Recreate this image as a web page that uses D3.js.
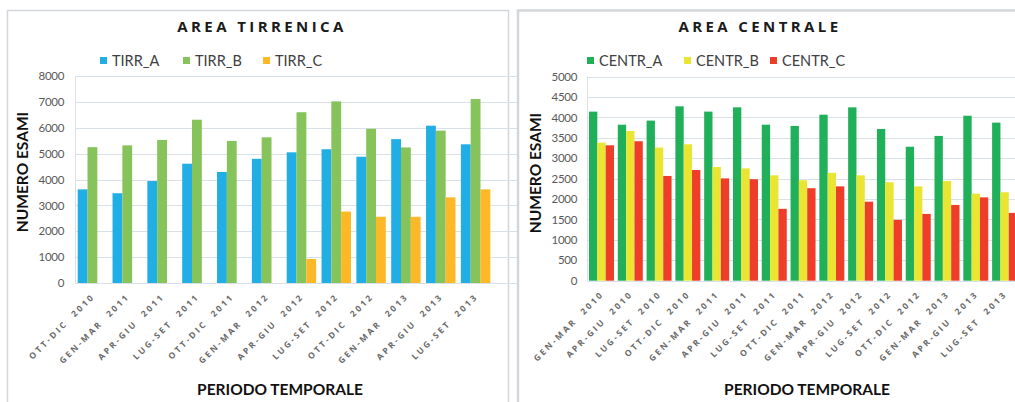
<!DOCTYPE html>
<html>
<head>
<meta charset="utf-8">
<script src="https://cdn.jsdelivr.net/npm/d3@7"></script>
<style>
  html, body { margin: 0; padding: 0; background: #ffffff; }
  svg { display: block; }
  text { font-family: Lato, "Open Sans", "Liberation Sans", sans-serif; }
</style>
</head>
<body>
<svg id="chart" width="1015" height="402"></svg>
<script>
// ---------- DATA ----------
const tirrCategories = ["OTT-DIC 2010","GEN-MAR 2011","APR-GIU 2011","LUG-SET 2011","OTT-DIC 2011","GEN-MAR 2012","APR-GIU 2012","LUG-SET 2012","OTT-DIC 2012","GEN-MAR 2013","APR-GIU 2013","LUG-SET 2013"];
const tirrSeriesNames = ["TIRR_A","TIRR_B","TIRR_C"];
const tirrA = [3620, 3470, 3940, 4610, 4290, 4800, 5050, 5170, 4880, 5560, 6080, 5360];
const tirrB = [5250, 5320, 5530, 6310, 5490, 5630, 6600, 7020, 5960, 5240, 5890, 7110];
const tirrC = [null, null, null, null, null, null, 930, 2760, 2560, 2560, 3310, 3620];
const tirrTicks = [0,1000,2000,3000,4000,5000,6000,7000,8000];

const centrCategories = ["GEN-MAR 2010","APR-GIU 2010","LUG-SET 2010","OTT-DIC 2010","GEN-MAR 2011","APR-GIU 2011","LUG-SET 2011","OTT-DIC 2011","GEN-MAR 2012","APR-GIU 2012","LUG-SET 2012","OTT-DIC 2012","GEN-MAR 2013","APR-GIU 2013","LUG-SET 2013"];
const centrSeriesNames = ["CENTR_A","CENTR_B","CENTR_C"];
const centrA = [4140, 3820, 3920, 4270, 4140, 4245, 3820, 3790, 4065, 4245, 3715, 3280, 3545, 4040, 3870];
const centrB = [3380, 3665, 3260, 3340, 2785, 2750, 2580, 2460, 2640, 2580, 2410, 2310, 2440, 2130, 2165];
const centrC = [3315, 3415, 2565, 2710, 2505, 2485, 1760, 2265, 2310, 1935, 1490, 1635, 1855, 2040, 1660];
const centrTicks = [0,500,1000,1500,2000,2500,3000,3500,4000,4500,5000];

const titles = ["AREA TIRRENICA", "AREA CENTRALE"];
const xTitle = "PERIODO TEMPORALE";
const yTitle = "NUMERO ESAMI";

// ---------- DRAW ----------
const svg = d3.select("#chart");

function drawPanel(cfg) {
  const g = svg.append("g");
  g.append("rect")
    .attr("x", cfg.panel.x).attr("y", cfg.panel.y)
    .attr("width", cfg.panel.w).attr("height", cfg.panel.h)
    .attr("fill", "#ffffff").attr("stroke", "#d3d7dc").attr("stroke-width", cfg.panel.sw);

  const x = d3.scaleBand().domain(cfg.categories)
    .range([cfg.plot.x0, cfg.plot.x1]).paddingInner(cfg.pad).paddingOuter(cfg.pad / 2);
  const xs = d3.scaleBand().domain(cfg.names).range([0, x.bandwidth()]);
  const y = d3.scaleLinear().domain([0, cfg.max]).range([cfg.plot.y1, cfg.plot.y0]);

  g.append("g").selectAll("line").data(cfg.ticks).join("line")
    .attr("x1", cfg.plot.x0).attr("x2", cfg.plot.x1 + 30)
    .attr("y1", d => Math.round(y(d)) + 0.5).attr("y2", d => Math.round(y(d)) + 0.5)
    .attr("stroke", "#d8e1ea").attr("stroke-width", 1);
  g.append("line")
    .attr("x1", Math.round(cfg.plot.x0) + 0.5).attr("x2", Math.round(cfg.plot.x0) + 0.5)
    .attr("y1", cfg.plot.y0).attr("y2", cfg.plot.y1)
    .attr("stroke", "#d8e1ea");

  const yAxis = d3.axisLeft(y).tickValues(cfg.ticks).tickSize(0).tickPadding(0).tickFormat(d3.format("d"));
  const ya = g.append("g").attr("transform", `translate(${cfg.yLabelX},0)`).call(yAxis);
  ya.select(".domain").remove();
  ya.selectAll("text").attr("fill", "#595959").style("font-size", "11.5px")
    .style("font-family", "Lato, 'Liberation Sans', sans-serif").style("letter-spacing", "-0.3px");

  const rows = cfg.categories.map((c, i) => ({ c, vals: cfg.series.map((s, k) => ({ name: cfg.names[k], v: s[i], color: cfg.colors[k] })) }));
  const grp = g.append("g").selectAll("g").data(rows).join("g")
    .attr("transform", d => `translate(${x(d.c)},0)`);
  grp.selectAll("rect").data(d => d.vals.filter(v => v.v != null)).join("rect")
    .attr("x", d => xs(d.name)).attr("width", xs.bandwidth())
    .attr("y", d => y(d.v)).attr("height", d => y(0) - y(d.v))
    .attr("fill", d => d.color);

  const xAxis = d3.axisBottom(x).tickSize(0).tickPadding(0);
  const xa = g.append("g").attr("transform", `translate(0,${cfg.plot.y1})`).call(xAxis);
  xa.select(".domain").remove();
  xa.selectAll("text")
    .attr("text-anchor", "end").attr("dy", null).attr("y", 0)
    .attr("transform", "translate(3,14) rotate(-45)")
    .attr("fill", "#6b6b6b")
    .attr("xml:space", "preserve")
    .style("white-space", "pre")
    .style("font-size", "8.5px").style("font-weight", "700")
    .style("letter-spacing", "2.4px")
    .style("font-family", "'Open Sans', 'Liberation Sans', sans-serif")
    .text(d => d.replace(" ", "  "));

  g.append("text").attr("x", cfg.titleX).attr("y", 32)
    .attr("text-anchor", "middle").attr("fill", "#1a1a1a")
    .style("font-size", "15px").style("font-weight", "700").style("letter-spacing", "3.4px")
    .style("font-family", "'Open Sans', 'Liberation Sans', sans-serif")
    .text(cfg.title);

  const lg = g.append("g");
  cfg.names.forEach((n, k) => {
    lg.append("rect").attr("x", cfg.legendX[k]).attr("y", 57).attr("width", 7).attr("height", 7).attr("fill", cfg.colors[k]);
    lg.append("text").attr("x", cfg.legendX[k] + 12).attr("y", 66)
      .attr("fill", "#404040").style("font-size", "14.5px").text(n);
  });

  g.append("text").attr("x", cfg.xTitleX).attr("y", 395).attr("text-anchor", "middle")
    .attr("fill", "#111").style("font-size", "15.5px").style("font-weight", "700").text(xTitle);
  g.append("text").attr("transform", `translate(${cfg.yTitleX},${cfg.yTitleY}) rotate(-90)`)
    .attr("text-anchor", "middle").attr("fill", "#111")
    .style("font-size", "15.5px").style("font-weight", "700").text(yTitle);
}

drawPanel({
  panel: { x: 7.5, y: 10.5, w: 501, h: 400, sw: 1.5 },
  categories: tirrCategories, names: tirrSeriesNames,
  series: [tirrA, tirrB, tirrC], colors: ["#20aee5", "#86c35a", "#fdb827"],
  plot: { x0: 75, x1: 493, y0: 76, y1: 283 }, pad: 0.155,
  max: 8000, ticks: tirrTicks, yLabelX: 64,
  title: titles[0], titleX: 262, legendX: [100, 183, 263],
  xTitleX: 280, yTitleX: 28, yTitleY: 172
});

drawPanel({
  panel: { x: 518, y: 10.5, w: 520, h: 400, sw: 2.5 },
  categories: centrCategories, names: centrSeriesNames,
  series: [centrA, centrB, centrC], colors: ["#21b05a", "#eae532", "#ee3d29"],
  plot: { x0: 587.1, x1: 1019, y0: 76.5, y1: 280.7 }, pad: 0.132,
  max: 5000, ticks: centrTicks, yLabelX: 577,
  title: titles[1], titleX: 760, legendX: [587, 684, 770],
  xTitleX: 807, yTitleX: 541, yTitleY: 173
});
</script>
</body>
</html>
